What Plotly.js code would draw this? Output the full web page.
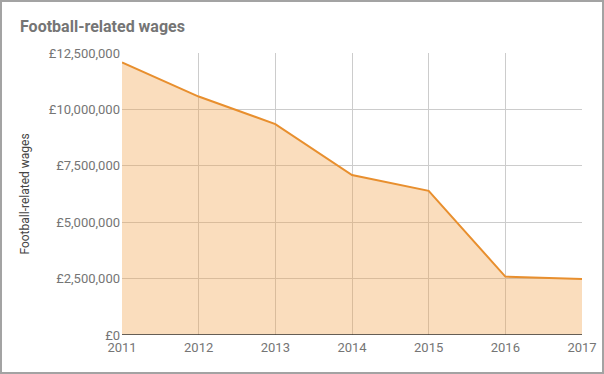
<!DOCTYPE html>
<html><head><meta charset="utf-8">
<script src="https://cdn.plot.ly/plotly-3.0.1.min.js"></script>
<style>
html,body{margin:0;padding:0;background:#fff;}
#wrap{position:absolute;left:0;top:0;width:600px;height:370px;border:2px solid #a3a3a3;}
#chart{width:600px;height:370px;}
</style></head>
<body><div id="wrap"><div id="chart"></div></div>
<script>
const years = [2011, 2012, 2013, 2014, 2015, 2016, 2017];
const wages = [12080000, 10570000, 9350000, 7090000, 6390000, 2590000, 2480000];
const yTicks = [0, 2500000, 5000000, 7500000, 10000000, 12500000];
const yTickLabels = ['£0', '£2,500,000', '£5,000,000', '£7,500,000', '£10,000,000', '£12,500,000'];

const trace = {
  x: years, y: wages, type: 'scatter', mode: 'lines',
  fill: 'tozeroy', fillcolor: 'rgba(242,160,73,0.36)',
  line: {color: '#e88f2e', width: 2}, hoverinfo: 'x+y'
};
const layout = {
  width: 600, height: 370,
  margin: {l: 119.5, r: 20, t: 51.3, b: 37},
  paper_bgcolor: '#fff', plot_bgcolor: '#fff',
  font: {family: 'Roboto, sans-serif', size: 12, color: '#757575'},
  title: {text: '<b>Football-related wages</b>', font: {family: 'Roboto, sans-serif', size: 16, color: '#757575'},
    xref: 'container', yref: 'container', x: 18/600, xanchor: 'left', y: 1 - 24/370, yanchor: 'middle'},
  showlegend: false,
  xaxis: {range: [2011, 2017], tickvals: years, ticktext: years.map(String), showgrid: true, gridcolor: '#cccccc',
    zeroline: false, showline: false, ticks: '', ticklabelstandoff: 3, tickfont: {size: 13, color: '#757575'}, fixedrange: true},
  yaxis: {range: [0, 12500000], tickvals: yTicks, ticktext: yTickLabels, showgrid: true, gridcolor: '#cccccc',
    zeroline: false, showline: false, ticks: '', ticklabelstandoff: 1, tickfont: {size: 13, color: '#757575'},
    title: {text: 'Football-related wages', font: {size: 12, color: '#444444'}, standoff: 16}, fixedrange: true},
  shapes: [{type: 'line', xref: 'paper', yref: 'y', x0: 0, x1: 1, y0: 0, y1: 0, line: {color: '#333333', width: 1.5}}]
};
Plotly.newPlot('chart', [trace], layout, {displayModeBar: false, staticPlot: true});
</script></body></html>
